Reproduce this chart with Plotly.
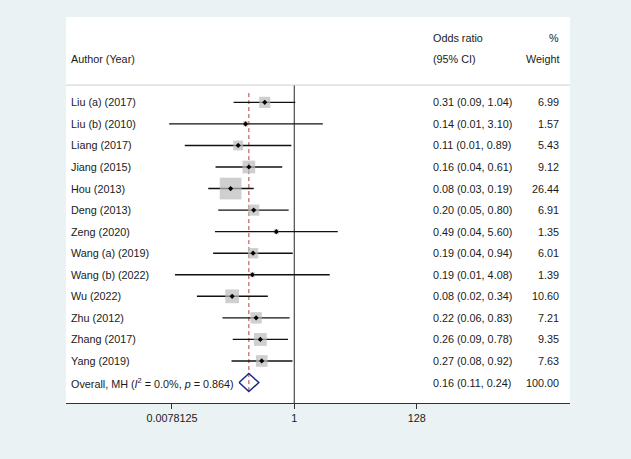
import math
import plotly.graph_objects as go

# ---------------- data ----------------
authors = ["Liu (a) (2017)", "Liu (b) (2010)", "Liang (2017)", "Jiang (2015)", "Hou (2013)",
           "Deng (2013)", "Zeng (2020)", "Wang (a) (2019)", "Wang (b) (2022)", "Wu (2022)",
           "Zhu (2012)", "Zhang (2017)", "Yang (2019)"]
or_est = [0.31, 0.145, 0.108, 0.165, 0.08, 0.20, 0.49, 0.195, 0.19, 0.085, 0.22, 0.26, 0.275]
ci_lo = [0.09, 0.007, 0.013, 0.044, 0.033, 0.049, 0.043, 0.04, 0.0088, 0.021, 0.058, 0.087, 0.083]
ci_hi = [1.04, 3.10, 0.89, 0.62, 0.20, 0.80, 5.60, 0.94, 4.08, 0.35, 0.83, 0.78, 0.93]
or_text = ["0.31 (0.09, 1.04)", "0.14 (0.01, 3.10)", "0.11 (0.01, 0.89)", "0.16 (0.04, 0.61)",
           "0.08 (0.03, 0.19)", "0.20 (0.05, 0.80)", "0.49 (0.04, 5.60)", "0.19 (0.04, 0.94)",
           "0.19 (0.01, 4.08)", "0.08 (0.02, 0.34)", "0.22 (0.06, 0.83)", "0.26 (0.09, 0.78)",
           "0.27 (0.08, 0.92)"]
weights = [6.99, 1.57, 5.43, 9.12, 26.44, 6.91, 1.35, 6.01, 1.39, 10.60, 7.21, 9.35, 7.63]

overall_label = "Overall, MH (<i>I</i><sup>2</sup> = 0.0%, <i>p</i> = 0.864)"
overall_est = 0.165
overall_lo = 0.112
overall_hi = 0.245
overall_text = "0.16 (0.11, 0.24)"
overall_weight = "100.00"

tick_vals = [0.0078125, 1, 128]
tick_text = ["0.0078125", "1", "128"]

# ---------------- styling ----------------
BG = "#EAF2F3"
FONT = "Liberation Sans, Arial, Helvetica, sans-serif"
FS = 10.8
TXT = "#1a1a1a"

n = len(authors)
rows = list(range(n))
overall_row = n

fig = go.Figure()

# CI lines
lx, ly = [], []
for r, lo, hi in zip(rows, ci_lo, ci_hi):
    lx += [lo, hi, None]
    ly += [r, r, None]
fig.add_trace(go.Scatter(x=lx, y=ly, mode="lines",
                         line=dict(color="#111111", width=1.4),
                         hoverinfo="skip", showlegend=False))

# weight boxes
max_w = max(weights)
sizes = [21.7 * math.sqrt(w / max_w) for w in weights]
fig.add_trace(go.Scatter(x=or_est, y=rows, mode="markers",
                         marker=dict(symbol="square", size=sizes, color="#BBBBBB",
                                     line=dict(width=0)),
                         hoverinfo="skip", showlegend=False))

# point estimate dots
fig.add_trace(go.Scatter(x=or_est, y=rows, mode="markers",
                         marker=dict(symbol="diamond", size=4, color="#000000"),
                         hoverinfo="skip", showlegend=False))

# reference lines
fig.add_shape(type="line", xref="x", yref="y", x0=1, x1=1, y0=-0.80, y1=13.95,
              line=dict(color="#4a4a4a", width=1.2), layer="below")
fig.add_shape(type="line", xref="x", yref="y", x0=overall_est, x1=overall_est,
              y0=-0.43, y1=overall_row + 0.42,
              line=dict(color="#B04040", width=1, dash="4px,3px"), layer="below")
fig.add_shape(type="line", xref="paper", yref="y", x0=0, x1=1, y0=-0.80, y1=-0.80,
              line=dict(color="#CFCFCF", width=1))

# overall diamond
h = 0.42
fig.add_trace(go.Scatter(
    x=[overall_lo, overall_est, overall_hi, overall_est, overall_lo],
    y=[overall_row, overall_row - h, overall_row, overall_row + h, overall_row],
    mode="lines",
    line=dict(color="#1B2A8A", width=1.5),
    hoverinfo="skip", showlegend=False))

# text columns
def px_to_paper(px):
    return (px - 66) / 504.0

ann = []
def add_text(xp, y, text, anchor):
    ann.append(dict(x=px_to_paper(xp), xref="paper", y=y, yref="y", text=text,
                    showarrow=False, xanchor=anchor, yanchor="middle",
                    font=dict(family=FONT, size=FS, color=TXT)))

add_text(69, -2, "Author (Year)", "left")
add_text(431, -3, "Odds ratio", "left")
add_text(431, -2, "(95% CI)", "left")
add_text(561, -3, "%", "right")
add_text(561, -2, "Weight", "right")

for r, a, t, w in zip(rows, authors, or_text, weights):
    add_text(69, r, a, "left")
    add_text(431, r, t, "left")
    add_text(561, r, f"{w:.2f}", "right")

add_text(69, overall_row, overall_label, "left")
add_text(431, overall_row, overall_text, "left")
add_text(561, overall_row, overall_weight, "right")

# axis range in log10 based on pixel extents
ppl2 = 17.48  # px per log2 unit
x_left = 2 ** ((66 - 294.3) / ppl2)
x_right = 2 ** ((570 - 294.3) / ppl2)

fig.update_layout(
    width=631, height=459,
    margin=dict(l=66, r=61, t=17, b=56),
    paper_bgcolor=BG, plot_bgcolor="white",
    annotations=ann,
    font=dict(family=FONT, size=FS, color=TXT),
    xaxis=dict(type="log", range=[math.log10(x_left), math.log10(x_right)],
               tickvals=tick_vals, ticktext=tick_text,
               showgrid=False, zeroline=False, showline=True,
               linecolor="#333333", linewidth=1,
               ticks="outside", ticklen=5, tickcolor="#333333", tickwidth=1,
               tickfont=dict(family=FONT, size=FS, color=TXT)),
    yaxis=dict(range=[13.95, -3.96], showgrid=False, zeroline=False,
               showline=False, showticklabels=False, ticks=""),
)

fig.write_html("out.html",
               config={"displayModeBar": False},
               post_script="document.body.style.margin='0';document.body.style.background='" + BG + "';")
